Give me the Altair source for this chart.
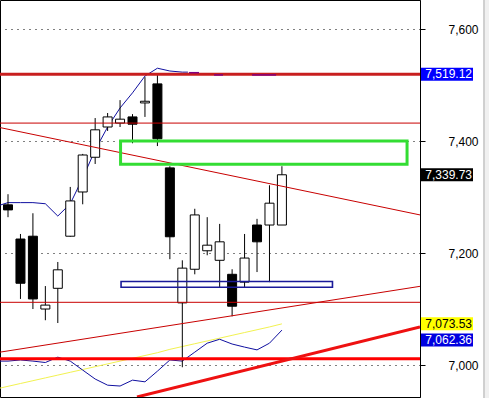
import altair as alt
import pandas as pd

# ---- candle data (index 0..22) ----
candle_idx = list(range(23))
opens = [7286, 7225, 7230, 7100, 7137, 7230, 7309, 7371, 7425, 7432, 7443, 7468,
         7502, 7352, 7111, 7171, 7204, 7187, 7162, 7148, 7250, 7250, 7250]
highs = [7305, 7234, 7271, 7141, 7184, 7318, 7377, 7441, 7450, 7473, 7448, 7514,
         7518, 7355, 7187, 7279, 7264, 7252, 7171, 7234, 7261, 7321, 7355]
lows = [7264, 7118, 7100, 7080, 7075, 7229, 7287, 7359, 7418, 7425, 7396, 7443,
        7391, 7189, 6996, 7162, 7196, 7139, 7087, 7139, 7166, 7148, 7250]
closes = [7277, 7146, 7118, 7107, 7170, 7293, 7375, 7420, 7443, 7439, 7430, 7471,
          7404, 7229, 7173, 7268, 7214, 7220, 7105, 7191, 7220, 7289, 7339.73]

# ---- indicator lines ----
yellow_x = list(range(-1, 23))
yellow_v = [6957, 6962, 6967, 6972, 6977, 6982, 6987, 6992, 6997, 7002, 7007, 7012,
            7017, 7022, 7028, 7033, 7038, 7043, 7048, 7053, 7058, 7063, 7068, 7073.53]

blue_up_x = list(range(-1, 15)) + [14.45]
blue_up_v = [7283, 7290, 7290, 7290, 7288, 7266, 7288, 7334, 7384, 7425, 7459, 7486,
             7516, 7530, 7525, 7523, 7523]

blue_lo_x = list(range(-1, 23))
blue_lo_v = [7007, 7007, 7009, 7007, 7004.5, 7014, 7007, 6991, 6975, 6964, 6962.5, 6973,
             6970, 6989, 7009, 7007, 7023, 7039, 7046, 7037.5, 7032, 7027, 7039, 7062.36]

purple_seg = [1, 1, 2, 2, 3, 3]
purple_x = [14.54, 15.34, 16.55, 17.27, 19.6, 21.53]
purple_v = [7522, 7522, 7518, 7518, 7518, 7518]

# horizontal levels
h_values = [7519.12, 7432, 7112, 7011]
h_colors = ["#c81e1e", "#c80000", "#c80000", "#ff0000"]
h_widths = [3, 1, 1, 3]

# trend lines (two points each)
tl_id = ["desc", "desc", "asc", "asc", "thick", "thick"]
tl_x = [-0.643, 33.09, -0.643, 33.09, 10.36, 33.09]
tl_v = [7424, 7268, 7023, 7140.5, 6943, 7068]
tl_color = ["#c80000", "#c80000", "#c80000", "#c80000", "#ee1111", "#ee1111"]
tl_width = [1, 1, 1, 1, 3, 3]

# zones
zone_x1 = [9.04, 9.08]
zone_x2 = [32.05, 26.06]
zone_v1 = [7358.4, 7138.9]
zone_v2 = [7400, 7149.1]
zone_color = ["#33dd33", "#1a1a99"]
zone_width = [3, 1.6]

# price labels
lab_text = ["7,519.12", "7,339.73", "7,073.53"]
lab_v = [7519.12, 7339.73, 7073.53]
lab_bg = ["#0000ff", "#000000", "#ffff00"]
lab_fg = ["#ffffff", "#ffffff", "#000000"]
lab2_text = ["7,062.36"]
lab2_v = [7062.36]

# ---- frames ----
candles = pd.DataFrame({"i": candle_idx, "o": opens, "h": highs, "l": lows, "c": closes})
candles["dir"] = ["up" if c >= o else "down" for o, c in zip(opens, closes)]
yellow = pd.DataFrame({"i": yellow_x, "v": yellow_v})
blue = pd.concat([
    pd.DataFrame({"i": blue_up_x, "v": blue_up_v, "s": "up"}),
    pd.DataFrame({"i": blue_lo_x, "v": blue_lo_v, "s": "lo"}),
])
purple = pd.DataFrame({"i": purple_x, "v": purple_v, "s": purple_seg})
hl = pd.DataFrame({"v": h_values, "c": h_colors, "w": h_widths})
tl = pd.DataFrame({"id": tl_id, "i": tl_x, "v": tl_v, "c": tl_color, "w": tl_width})
zones = pd.DataFrame({"x1": zone_x1, "x2": zone_x2, "v1": zone_v1, "v2": zone_v2,
                      "c": zone_color, "w": zone_width})
labs = pd.DataFrame({"t": lab_text, "v": lab_v, "bg": lab_bg, "fg": lab_fg})
labs2 = pd.DataFrame({"t": lab2_text, "v": lab2_v})
one = pd.DataFrame({"a": [0]})

xs = alt.Scale(domain=[-0.643, 33.09], nice=False, zero=False, padding=0)
ys = alt.Scale(domain=[6942.9, 7651.8], nice=False, zero=False, padding=0)
yaxis = alt.Axis(orient="right", values=[7000, 7200, 7400, 7600], format=",d",
                 grid=True, gridColor="black", gridDash=[1, 5], gridWidth=1, gridOpacity=1,
                 domainColor="black", domainWidth=1, tickColor="black", tickSize=5,
                 labelFont="Liberation Sans", labelFontSize=12, labelColor="black",
                 labelAlign="right", labelBaseline="middle", labelPadding=53, title=None)


def X(f):
    return alt.X(f, type="quantitative", scale=xs, axis=None)


def Y(f):
    return alt.Y(f, type="quantitative", scale=ys, axis=yaxis)


sc = alt.Scale(domain=["up", "down"], range=["white", "black"])

yellow_l = alt.Chart(yellow).mark_line(color="#f2f250", strokeWidth=1, clip=True).encode(
    x=X("i"), y=Y("v"))
blue_l = alt.Chart(blue).mark_line(color="#1010a0", strokeWidth=1, clip=True).encode(
    x=X("i"), y=Y("v"), detail="s:N")

wicks = alt.Chart(candles).mark_rule(color="black", strokeWidth=1).encode(
    x=X("i"), y=Y("l"), y2="h")
bodies = alt.Chart(candles).mark_bar(size=9, stroke="black", strokeWidth=1).encode(
    x=X("i"), y=Y("o"), y2="c",
    fill=alt.Fill("dir:N", scale=sc, legend=None))

hlines = alt.Chart(hl).mark_rule().encode(
    y=Y("v"), color=alt.Color("c:N", scale=None), strokeWidth=alt.StrokeWidth("w:Q", scale=None))
tlines = alt.Chart(tl).mark_line(clip=True).encode(
    x=X("i"), y=Y("v"), detail="id:N",
    color=alt.Color("c:N", scale=None), strokeWidth=alt.StrokeWidth("w:Q", scale=None))
purple_l = alt.Chart(purple).mark_line(color="#800080", strokeWidth=1.5).encode(
    x=X("i"), y=Y("v"), detail="s:N")

zone_r = alt.Chart(zones).mark_rect(fill=None, filled=False).encode(
    x=X("x1"), x2="x2", y=Y("v1"), y2="v2",
    stroke=alt.Stroke("c:N", scale=None), strokeWidth=alt.StrokeWidth("w:Q", scale=None))

lab_box = alt.Chart(labs).mark_rect(yOffset=-6.5, y2Offset=6.5).encode(
    x=alt.value(421), x2=alt.value(473), y=Y("v"), y2="v",
    fill=alt.Fill("bg:N", scale=None))
lab_txt = alt.Chart(labs).mark_text(align="right", baseline="middle", font="Liberation Sans",
                                     fontSize=12).encode(
    x=alt.value(472), y=Y("v"), text="t:N", color=alt.Color("fg:N", scale=None))
lab2_box = alt.Chart(labs2).mark_rect(yOffset=3.5, y2Offset=16.5, fill="#0000e0").encode(
    x=alt.value(421), x2=alt.value(473), y=Y("v"), y2="v")
lab2_txt = alt.Chart(labs2).mark_text(align="right", baseline="middle", font="Liberation Sans",
                                       fontSize=12, yOffset=10, color="white").encode(
    x=alt.value(472), y=Y("v"), text="t:N")

strip = alt.Chart(one).mark_rect(fill="#f0f0f0").encode(
    x=alt.value(485), x2=alt.value(489), y=alt.value(-1), y2=alt.value(398))
strip_line = alt.Chart(one).mark_rule(color="#a0a0a0", strokeWidth=1).encode(
    x=alt.value(484), y=alt.value(-1), y2=alt.value(398))

chart = alt.layer(
    yellow_l, blue_l, wicks, bodies, hlines, tlines, purple_l, zone_r,
    lab_box, lab_txt, lab2_box, lab2_txt, strip, strip_line
).properties(
    width=420, height=397,
    autosize=alt.AutoSizeParams(type="none"),
    padding={"left": 0, "top": 0, "right": 69, "bottom": 1},
    background="white",
).configure_view(stroke="black", strokeWidth=1)

chart.save("out.html", embed_options={"renderer": "svg", "actions": False})
